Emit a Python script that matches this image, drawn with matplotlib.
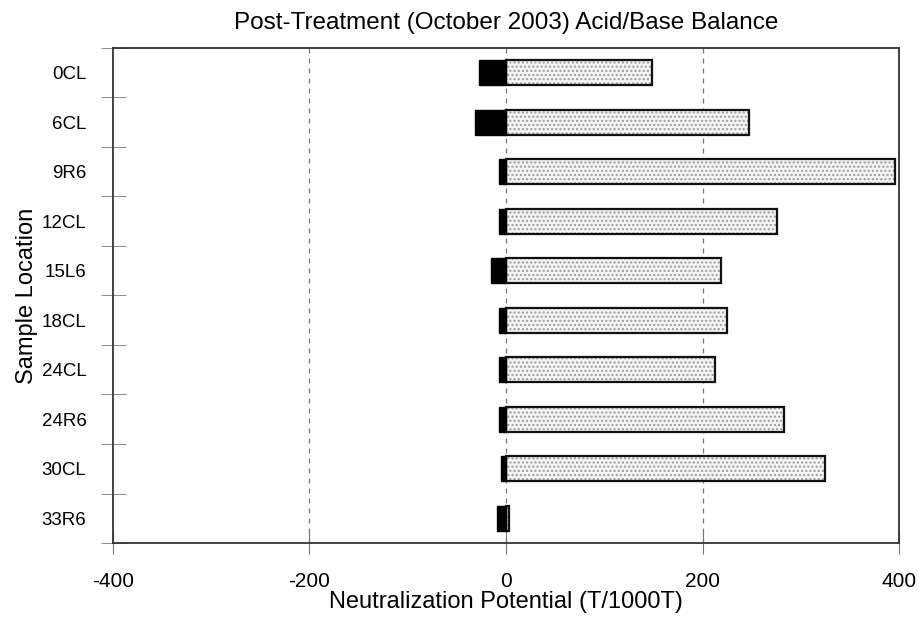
import numpy as np
import matplotlib
matplotlib.use("Agg")
import matplotlib.pyplot as plt

plt.rcParams["font.family"] = ["Liberation Sans", "DejaVu Sans"]

locations = ["0CL", "6CL", "9R6", "12CL", "15L6", "18CL", "24CL", "24R6", "30CL", "33R6"]
acid_potential = [-27, -32, -7, -7, -15, -7, -7, -7, -5, -9]
neutralization = [149, 247, 396, 276, 219, 225, 213, 283, 325, 3]
x_ticks = [-400, -200, 0, 200, 400]

fig = plt.figure(figsize=(9.2, 6.23), dpi=100)
ax = fig.add_axes([0.1228, 0.1284, 0.8544, 0.7946])

y = np.arange(len(locations))
for gx in (-200, 0, 200):
    ax.axvline(gx, color="#777777", ls=(0, (4, 4)), lw=0.9, zorder=0)

# dotted fill, then black outline on top
ax.barh(y, neutralization, height=0.5, color="#f4f4f4", edgecolor="#9a9a9a",
        hatch="....", lw=0, zorder=2)
ax.barh(y, neutralization, height=0.5, fill=False, edgecolor="#111111", lw=1.6, zorder=3)
ax.barh(y, acid_potential, height=0.5, color="black", edgecolor="black", lw=1.0, zorder=4)

ax.set_xlim(-400, 400)
ax.set_ylim(len(locations) - 0.5, -0.5)
ax.set_xticks(x_ticks)
ax.set_xticklabels([str(v) for v in x_ticks], fontsize=15)
ax.set_yticks(y)
ax.set_yticklabels(locations, fontsize=13.5)
ax.set_yticks(np.arange(-0.5, len(locations)), minor=True)
ax.tick_params(axis="y", which="major", length=0, pad=19)
ax.tick_params(axis="y", which="minor", direction="inout", length=18, color="#777777")
ax.tick_params(axis="x", which="major", direction="inout", length=16, color="#777777", pad=13)

for s in ax.spines.values():
    s.set_color("#333333")
    s.set_linewidth(1.3)

ax.set_title("Post-Treatment (October 2003) Acid/Base Balance", fontsize=17.5, pad=14)
ax.set_xlabel("Neutralization Potential (T/1000T)", fontsize=17, labelpad=0)
ax.set_ylabel("Sample Location", fontsize=17)
ax.yaxis.set_label_coords(-0.095, 0.5)

fig.savefig("out.png", dpi=100)
